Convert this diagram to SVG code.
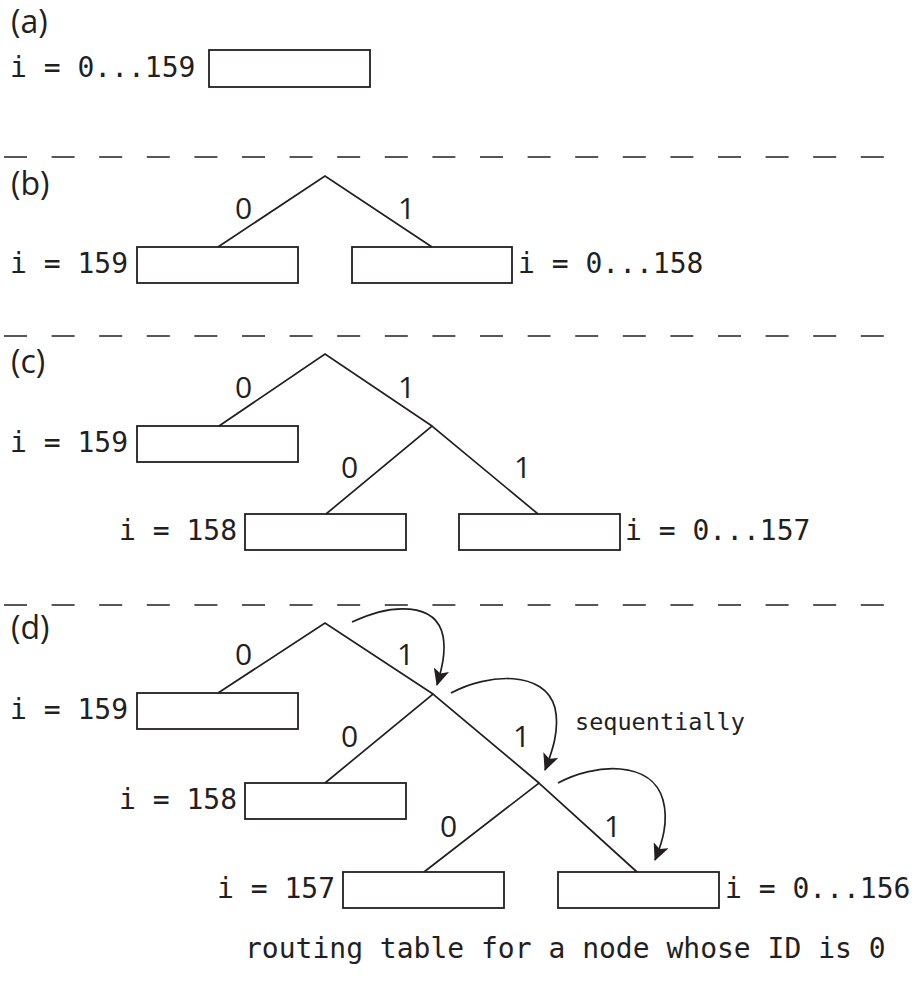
<svg xmlns="http://www.w3.org/2000/svg" width="914" height="996" viewBox="0 0 914 996">
  <style>
    .bg { fill: #ffffff; }
    .box { fill: #ffffff; stroke: #231f20; stroke-width: 1.8; }
    .edge { fill: none; stroke: #231f20; stroke-width: 1.7; }
    .sep { fill: none; stroke: #231f20; stroke-width: 1.7; stroke-dasharray: 23 24.6; }
    .arc { fill: none; stroke: #231f20; stroke-width: 1.7; }
    .mono { font-family: "DejaVu Sans Mono", "Liberation Mono", monospace; font-size: 28px; fill: #231f20; }
    .small { font-family: "DejaVu Sans Mono", "Liberation Mono", monospace; font-size: 23.5px; fill: #231f20; }
    .bit { font-family: "Open Sans", "Noto Sans", "Liberation Sans", sans-serif; font-size: 30px; fill: #231f20; }
    .tag { font-family: "Open Sans", "Noto Sans", "Liberation Sans", sans-serif; font-size: 32px; fill: #231f20; }
  </style>
  <defs>
    <marker id="head" markerUnits="userSpaceOnUse" markerWidth="18" markerHeight="16" refX="16" refY="8" orient="auto" viewBox="0 0 18 16">
      <path d="M0,0 L17,8 L0,16 L4,8 Z" fill="#231f20"/>
    </marker>
  </defs>
  <rect class="bg" x="0" y="0" width="914" height="996"/>

  <!-- section separators -->
  <g id="separators">
    <line class="sep" x1="4" y1="157" x2="886" y2="157"/>
    <line class="sep" x1="4" y1="336" x2="886" y2="336"/>
    <line class="sep" x1="4" y1="605" x2="886" y2="605"/>
  </g>

  <!-- panel (a) -->
  <g id="panel-a">
    <text class="tag" x="11" y="33">(a)</text>
    <g id="a-leaf">
      <text class="mono" x="10" y="77">i = 0...159</text>
      <rect class="box" x="209" y="50" width="161" height="37"/>
    </g>
  </g>

  <!-- panel (b) -->
  <g id="panel-b">
    <text class="tag" x="11" y="195">(b)</text>
    <g id="b-leaf-159">
      <text class="mono" x="10" y="273">i = 159</text>
      <rect class="box" x="137" y="247" width="161" height="36"/>
    </g>
    <g id="b-leaf-rest">
      <rect class="box" x="352" y="247" width="160" height="36"/>
      <text class="mono" x="518" y="273">i = 0...158</text>
    </g>
  </g>

  <!-- panel (c) -->
  <g id="panel-c">
    <text class="tag" x="11" y="373">(c)</text>
    <g id="c-leaf-159">
      <text class="mono" x="10" y="452">i = 159</text>
      <rect class="box" x="137" y="426" width="161" height="36"/>
    </g>
    <g id="c-leaf-158">
      <text class="mono" x="119" y="540">i = 158</text>
      <rect class="box" x="245" y="514" width="161" height="36"/>
    </g>
    <g id="c-leaf-rest">
      <rect class="box" x="459" y="514" width="161" height="36"/>
      <text class="mono" x="625" y="540">i = 0...157</text>
    </g>
  </g>

  <!-- panel (d) -->
  <g id="panel-d">
    <text class="tag" x="11" y="639">(d)</text>
    <g id="d-leaf-159">
      <text class="mono" x="10" y="719">i = 159</text>
      <rect class="box" x="137" y="693" width="161" height="36"/>
    </g>
    <g id="d-leaf-158">
      <text class="mono" x="119" y="809">i = 158</text>
      <rect class="box" x="245" y="783" width="161" height="36"/>
    </g>
    <g id="d-leaf-157">
      <text class="mono" x="217" y="898">i = 157</text>
      <rect class="box" x="343" y="872" width="161" height="36"/>
    </g>
    <g id="d-leaf-rest">
      <rect class="box" x="558" y="872" width="161" height="36"/>
      <text class="mono" x="725" y="898">i = 0...156</text>
    </g>
    <text class="small" x="575" y="730">sequentially</text>
  </g>

  <!-- tree edges and bit labels -->
  <g id="connectors">
    <!-- (b) -->
    <polyline class="edge" points="218,247 325,176 432,247"/>
    <text class="bit" x="235" y="219">0</text>
    <text class="bit" x="398" y="219">1</text>

    <!-- (c) -->
    <polyline class="edge" points="219,426 325,354 432,426"/>
    <polyline class="edge" points="326,514 432,426 538,514"/>
    <text class="bit" x="235" y="398">0</text>
    <text class="bit" x="398" y="398">1</text>
    <text class="bit" x="341" y="478">0</text>
    <text class="bit" x="514" y="478">1</text>

    <!-- (d) -->
    <polyline class="edge" points="218,693 325,623 433,694"/>
    <polyline class="edge" points="325,783 433,694 539,783"/>
    <polyline class="edge" points="424,872 539,783 637,872"/>
    <text class="bit" x="235" y="665">0</text>
    <text class="bit" x="397" y="665">1</text>
    <text class="bit" x="341" y="747">0</text>
    <text class="bit" x="513" y="747">1</text>
    <text class="bit" x="440" y="837">0</text>
    <text class="bit" x="604" y="837">1</text>

    <!-- lookup order arrows -->
    <path class="arc" marker-end="url(#head)" d="M352,622 C392,603 436,602 443,636 C446,652 442,668 437,685"/>
    <path class="arc" marker-end="url(#head)" d="M451,693 C488,673 545,670 555,708 C560,730 552,752 545,770"/>
    <path class="arc" marker-end="url(#head)" d="M558,783 C595,763 652,760 663,800 C669,822 662,843 655,860"/>
  </g>

  <text class="mono" x="245" y="958">routing table for a node whose ID is 0</text>
</svg>
